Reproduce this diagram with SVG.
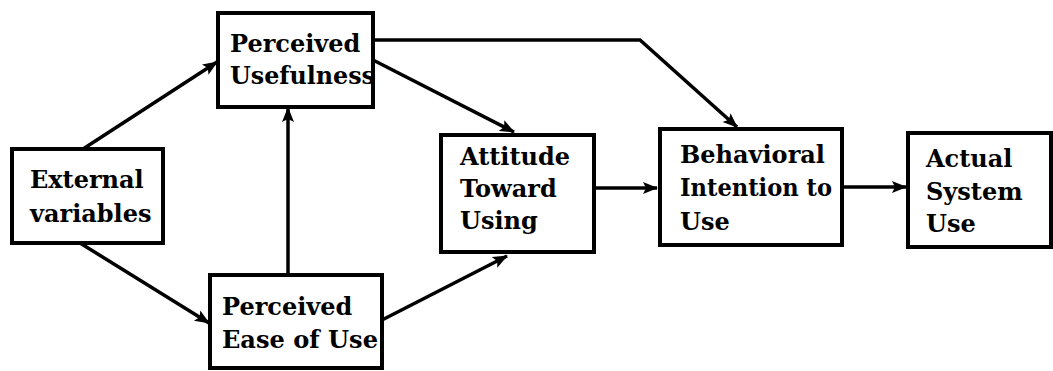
<svg xmlns="http://www.w3.org/2000/svg" width="1053" height="371" viewBox="0 0 1053 371">
<style>
.box{fill:#fff;stroke:#000;stroke-width:4}
.t{font-family:"DejaVu Serif",serif;font-weight:bold;font-size:24px;fill:#000}
.c{fill:none;stroke:#000;stroke-width:3.5;marker-end:url(#ah)}
</style>
<defs>
<marker id="ah" markerUnits="userSpaceOnUse" markerWidth="16" markerHeight="14" refX="14" refY="7" orient="auto">
<path d="M0,1 L15,7 L0,13 L3,7 Z" fill="#000"/>
</marker>
</defs>
<rect width="1053" height="371" fill="#fff"/>
<g id="connectors">
<line class="c" x1="83" y1="149" x2="217" y2="62"/>
<line class="c" x1="80" y1="243" x2="209" y2="323"/>
<line class="c" x1="288" y1="275" x2="288" y2="108"/>
<line class="c" x1="373" y1="60" x2="514" y2="132"/>
<line class="c" x1="382" y1="320" x2="507" y2="256"/>
<polyline class="c" points="373,40 640,40 737,127"/>
<line class="c" x1="594" y1="188" x2="657" y2="188"/>
<line class="c" x1="842" y1="187" x2="906" y2="187"/>
</g>
<g id="external">
<rect class="box" x="12" y="149" width="151" height="94"/>
<text class="t" x="30" y="188">External</text>
<text class="t" x="30" y="222">variables</text>
</g>
<g id="pu">
<rect class="box" x="218" y="13" width="155" height="94"/>
<text class="t" x="230" y="52">Perceived</text>
<text class="t" x="230" y="84" textLength="145" lengthAdjust="spacingAndGlyphs">Usefulness</text>
</g>
<g id="peou">
<rect class="box" x="210" y="275" width="172" height="93"/>
<text class="t" x="222" y="315">Perceived</text>
<text class="t" x="222" y="348" textLength="156" lengthAdjust="spacingAndGlyphs">Ease of Use</text>
</g>
<g id="attitude">
<rect class="box" x="441" y="135" width="153" height="117"/>
<text class="t" x="460" y="165">Attitude</text>
<text class="t" x="460" y="197">Toward</text>
<text class="t" x="460" y="229">Using</text>
</g>
<g id="bi">
<rect class="box" x="660" y="129" width="182" height="116"/>
<text class="t" x="680" y="163">Behavioral</text>
<text class="t" x="680" y="196" textLength="152" lengthAdjust="spacingAndGlyphs">Intention to</text>
<text class="t" x="680" y="230">Use</text>
</g>
<g id="asu">
<rect class="box" x="908" y="133" width="143" height="114"/>
<text class="t" x="926" y="167">Actual</text>
<text class="t" x="926" y="200">System</text>
<text class="t" x="926" y="232">Use</text>
</g>
</svg>
